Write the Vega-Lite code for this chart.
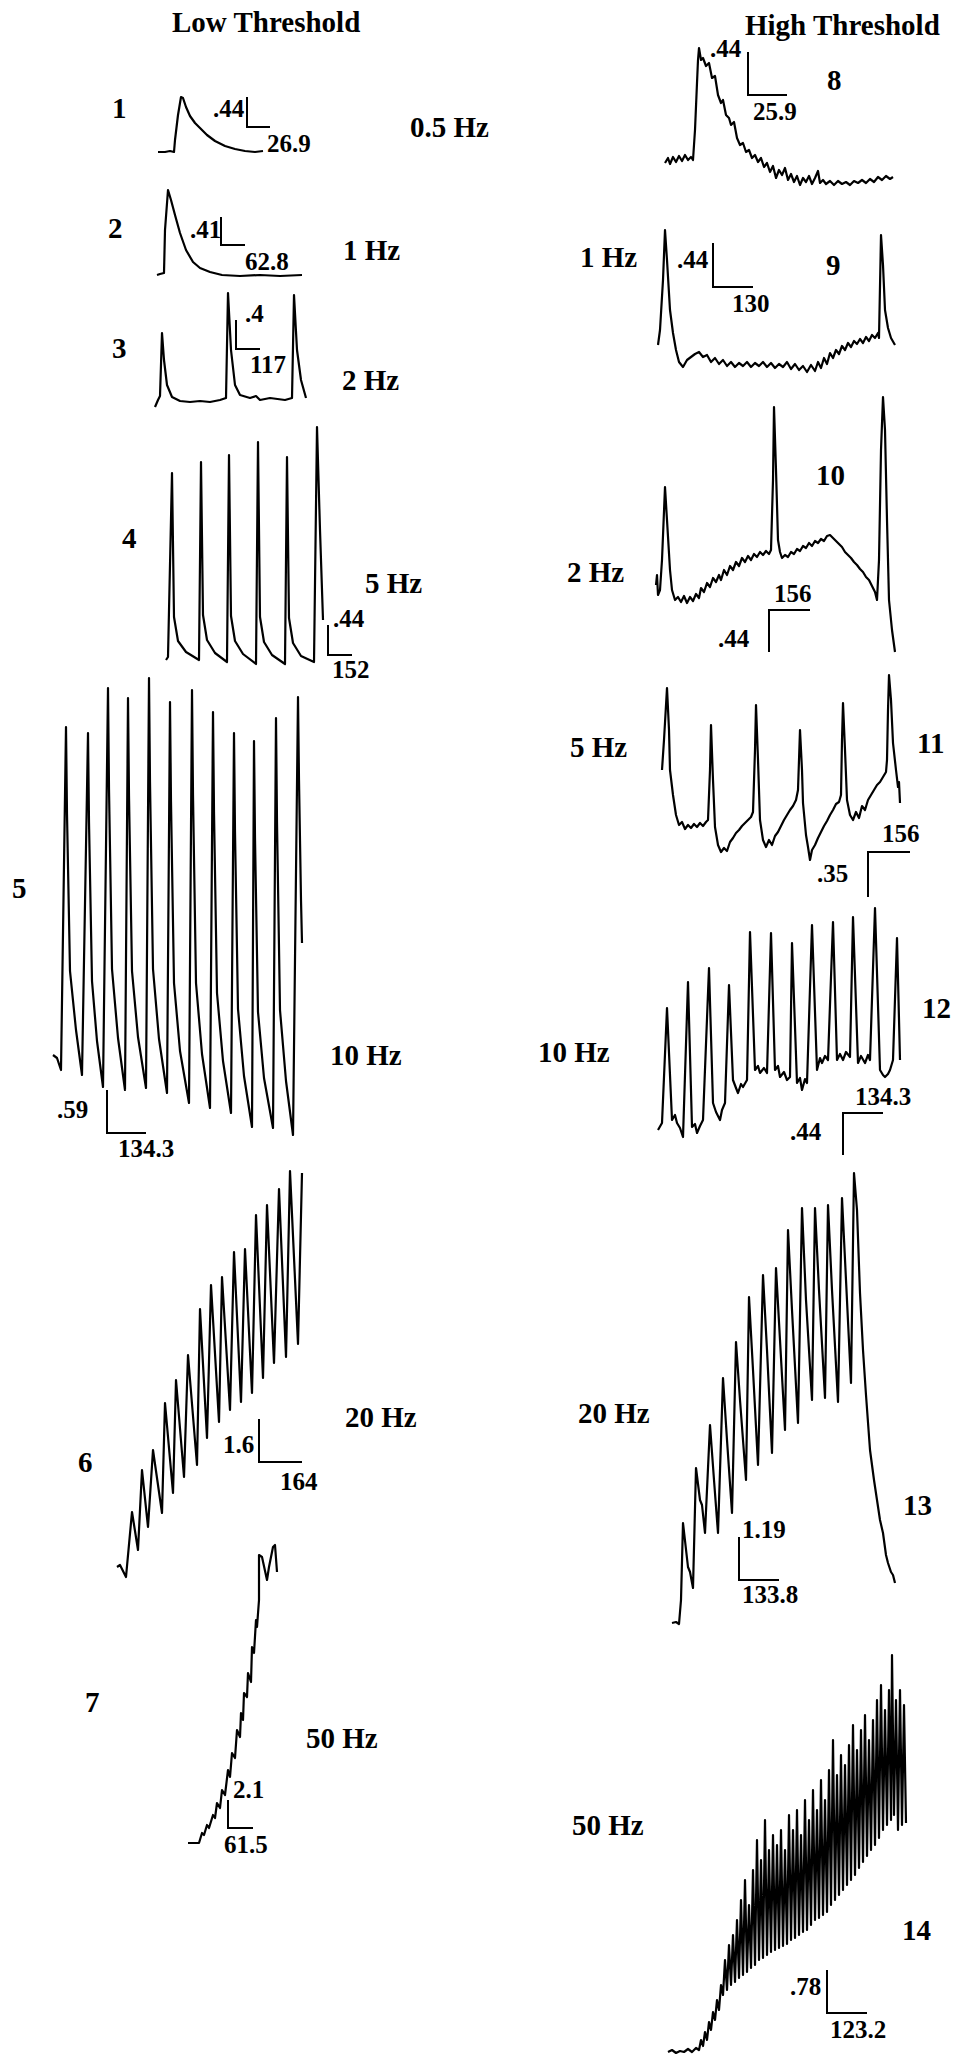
{
"$schema":"https://vega.github.io/schema/vega-lite/v6.json",
"width":968,"height":2063,
"autosize":{"type":"fit","contains":"padding"},
"padding":0,
"background":"white",
"config":{"view":{"stroke":null}},
"datasets":{
"traces":[
{"t":"1","x":158,"y":152},{"t":"1","x":165,"y":152},{"t":"1","x":170,"y":151},{"t":"1","x":174,"y":152},{"t":"1","x":175,"y":140},{"t":"1","x":178,"y":115},{"t":"1","x":181,"y":97},{"t":"1","x":183,"y":98},{"t":"1","x":186,"y":107},{"t":"1","x":190,"y":116},{"t":"1","x":195,"y":123},{"t":"1","x":200,"y":128},{"t":"1","x":207,"y":135},{"t":"1","x":215,"y":141},{"t":"1","x":225,"y":146},{"t":"1","x":235,"y":149},{"t":"1","x":245,"y":151},{"t":"1","x":255,"y":152},{"t":"1","x":263,"y":151},
{"t":"2","x":157,"y":275},{"t":"2","x":160,"y":274},{"t":"2","x":164,"y":273},{"t":"2","x":165,"y":230},{"t":"2","x":168,"y":190},{"t":"2","x":171,"y":200},{"t":"2","x":175,"y":215},{"t":"2","x":180,"y":233},{"t":"2","x":186,"y":250},{"t":"2","x":193,"y":262},{"t":"2","x":200,"y":268},{"t":"2","x":210,"y":272},{"t":"2","x":222,"y":275},{"t":"2","x":240,"y":276},{"t":"2","x":260,"y":275},{"t":"2","x":280,"y":276},{"t":"2","x":302,"y":275},
{"t":"3","x":155,"y":407},{"t":"3","x":158,"y":400},{"t":"3","x":160,"y":396},{"t":"3","x":162,"y":333},{"t":"3","x":164,"y":360},{"t":"3","x":167,"y":385},{"t":"3","x":172,"y":397},{"t":"3","x":180,"y":401},{"t":"3","x":190,"y":402},{"t":"3","x":200,"y":401},{"t":"3","x":210,"y":402},{"t":"3","x":220,"y":400},{"t":"3","x":226,"y":398},{"t":"3","x":228,"y":293},{"t":"3","x":231,"y":350},{"t":"3","x":235,"y":385},{"t":"3","x":240,"y":395},{"t":"3","x":250,"y":398},{"t":"3","x":256,"y":396},{"t":"3","x":260,"y":400},{"t":"3","x":270,"y":398},{"t":"3","x":285,"y":400},{"t":"3","x":292,"y":398},{"t":"3","x":294,"y":295},{"t":"3","x":297,"y":350},{"t":"3","x":301,"y":380},{"t":"3","x":306,"y":398},
{"t":"4","x":166,"y":660},{"t":"4","x":168,"y":657},{"t":"4","x":172,"y":473},{"t":"4","x":174,"y":617},{"t":"4","x":178,"y":641},{"t":"4","x":186,"y":652},{"t":"4","x":199,"y":660},{"t":"4","x":201,"y":462},{"t":"4","x":203,"y":615},{"t":"4","x":207,"y":640},{"t":"4","x":215,"y":653},{"t":"4","x":227,"y":662},{"t":"4","x":229,"y":455},{"t":"4","x":231,"y":616},{"t":"4","x":235,"y":641},{"t":"4","x":243,"y":654},{"t":"4","x":256,"y":664},{"t":"4","x":258,"y":442},{"t":"4","x":260,"y":617},{"t":"4","x":264,"y":642},{"t":"4","x":272,"y":655},{"t":"4","x":285,"y":664},{"t":"4","x":287,"y":457},{"t":"4","x":289,"y":618},{"t":"4","x":293,"y":643},{"t":"4","x":301,"y":656},{"t":"4","x":314,"y":662},{"t":"4","x":317,"y":427},{"t":"4","x":320,"y":530},{"t":"4","x":323,"y":620},
{"t":"5","x":53,"y":1055},{"t":"5","x":57,"y":1058},{"t":"5","x":61,"y":1070},{"t":"5","x":66,"y":727},{"t":"5","x":67,"y":814},{"t":"5","x":70,"y":971},{"t":"5","x":76,"y":1030},{"t":"5","x":82,"y":1075},{"t":"5","x":88,"y":733},{"t":"5","x":89,"y":822},{"t":"5","x":92,"y":981},{"t":"5","x":97,"y":1041},{"t":"5","x":103,"y":1087},{"t":"5","x":108,"y":688},{"t":"5","x":109,"y":789},{"t":"5","x":112,"y":969},{"t":"5","x":118,"y":1038},{"t":"5","x":125,"y":1090},{"t":"5","x":128,"y":698},{"t":"5","x":129,"y":796},{"t":"5","x":132,"y":971},{"t":"5","x":138,"y":1037},{"t":"5","x":146,"y":1088},{"t":"5","x":149,"y":678},{"t":"5","x":150,"y":782},{"t":"5","x":153,"y":969},{"t":"5","x":159,"y":1039},{"t":"5","x":167,"y":1093},{"t":"5","x":170,"y":702},{"t":"5","x":171,"y":802},{"t":"5","x":174,"y":983},{"t":"5","x":180,"y":1051},{"t":"5","x":189,"y":1103},{"t":"5","x":192,"y":690},{"t":"5","x":193,"y":795},{"t":"5","x":196,"y":983},{"t":"5","x":202,"y":1054},{"t":"5","x":210,"y":1108},{"t":"5","x":213,"y":712},{"t":"5","x":214,"y":812},{"t":"5","x":217,"y":993},{"t":"5","x":223,"y":1061},{"t":"5","x":231,"y":1113},{"t":"5","x":234,"y":733},{"t":"5","x":235,"y":832},{"t":"5","x":238,"y":1009},{"t":"5","x":244,"y":1076},{"t":"5","x":252,"y":1127},{"t":"5","x":254,"y":741},{"t":"5","x":255,"y":838},{"t":"5","x":258,"y":1012},{"t":"5","x":264,"y":1078},{"t":"5","x":273,"y":1128},{"t":"5","x":276,"y":718},{"t":"5","x":277,"y":822},{"t":"5","x":280,"y":1010},{"t":"5","x":286,"y":1081},{"t":"5","x":293,"y":1135},{"t":"5","x":298,"y":697},{"t":"5","x":299,"y":780},{"t":"5","x":301,"y":900},{"t":"5","x":302,"y":943},
{"t":"6","x":117,"y":1567},{"t":"6","x":120,"y":1565},{"t":"6","x":126,"y":1577},{"t":"6","x":132,"y":1512},{"t":"6","x":138,"y":1550},{"t":"6","x":142,"y":1470},{"t":"6","x":148,"y":1527},{"t":"6","x":153,"y":1450},{"t":"6","x":162,"y":1513},{"t":"6","x":165,"y":1403},{"t":"6","x":173,"y":1493},{"t":"6","x":176,"y":1380},{"t":"6","x":184,"y":1477},{"t":"6","x":188,"y":1355},{"t":"6","x":197,"y":1465},{"t":"6","x":200,"y":1309},{"t":"6","x":207,"y":1438},{"t":"6","x":211,"y":1285},{"t":"6","x":219,"y":1422},{"t":"6","x":222,"y":1277},{"t":"6","x":230,"y":1410},{"t":"6","x":234,"y":1252},{"t":"6","x":241,"y":1402},{"t":"6","x":245,"y":1249},{"t":"6","x":252,"y":1393},{"t":"6","x":256,"y":1215},{"t":"6","x":263,"y":1378},{"t":"6","x":267,"y":1205},{"t":"6","x":274,"y":1363},{"t":"6","x":279,"y":1189},{"t":"6","x":286,"y":1357},{"t":"6","x":290,"y":1171},{"t":"6","x":298,"y":1344},{"t":"6","x":302,"y":1173},
{"t":"7","x":188,"y":1843},{"t":"7","x":199,"y":1843},{"t":"7","x":202,"y":1833},{"t":"7","x":204,"y":1835},{"t":"7","x":207,"y":1825},{"t":"7","x":209,"y":1828},{"t":"7","x":213,"y":1815},{"t":"7","x":215,"y":1818},{"t":"7","x":217,"y":1803},{"t":"7","x":220,"y":1808},{"t":"7","x":222,"y":1790},{"t":"7","x":225,"y":1795},{"t":"7","x":228,"y":1770},{"t":"7","x":230,"y":1777},{"t":"7","x":232,"y":1753},{"t":"7","x":235,"y":1758},{"t":"7","x":237,"y":1730},{"t":"7","x":240,"y":1737},{"t":"7","x":241,"y":1713},{"t":"7","x":243,"y":1720},{"t":"7","x":244,"y":1693},{"t":"7","x":247,"y":1697},{"t":"7","x":248,"y":1673},{"t":"7","x":251,"y":1682},{"t":"7","x":252,"y":1647},{"t":"7","x":254,"y":1653},{"t":"7","x":256,"y":1620},{"t":"7","x":257,"y":1627},{"t":"7","x":259,"y":1600},{"t":"7","x":259,"y":1555},{"t":"7","x":262,"y":1557},{"t":"7","x":267,"y":1580},{"t":"7","x":269,"y":1567},{"t":"7","x":273,"y":1547},{"t":"7","x":275,"y":1545},{"t":"7","x":277,"y":1572},
{"t":"8","x":665,"y":163},{"t":"8","x":668,"y":158},{"t":"8","x":670,"y":164},{"t":"8","x":673,"y":157},{"t":"8","x":676,"y":162},{"t":"8","x":679,"y":156},{"t":"8","x":682,"y":161},{"t":"8","x":685,"y":155},{"t":"8","x":688,"y":160},{"t":"8","x":691,"y":157},{"t":"8","x":693,"y":160},{"t":"8","x":695,"y":130},{"t":"8","x":697,"y":83},{"t":"8","x":698,"y":60},{"t":"8","x":699,"y":48},{"t":"8","x":701,"y":60},{"t":"8","x":703,"y":58},{"t":"8","x":706,"y":66},{"t":"8","x":709,"y":63},{"t":"8","x":712,"y":78},{"t":"8","x":715,"y":76},{"t":"8","x":718,"y":95},{"t":"8","x":721,"y":103},{"t":"8","x":723,"y":100},{"t":"8","x":726,"y":115},{"t":"8","x":729,"y":118},{"t":"8","x":731,"y":125},{"t":"8","x":734,"y":122},{"t":"8","x":737,"y":138},{"t":"8","x":740,"y":145},{"t":"8","x":743,"y":143},{"t":"8","x":746,"y":152},{"t":"8","x":749,"y":150},{"t":"8","x":752,"y":158},{"t":"8","x":755,"y":155},{"t":"8","x":758,"y":162},{"t":"8","x":761,"y":158},{"t":"8","x":764,"y":167},{"t":"8","x":767,"y":163},{"t":"8","x":770,"y":172},{"t":"8","x":773,"y":166},{"t":"8","x":776,"y":178},{"t":"8","x":779,"y":170},{"t":"8","x":782,"y":175},{"t":"8","x":785,"y":168},{"t":"8","x":788,"y":180},{"t":"8","x":791,"y":174},{"t":"8","x":794,"y":182},{"t":"8","x":797,"y":176},{"t":"8","x":800,"y":185},{"t":"8","x":803,"y":178},{"t":"8","x":806,"y":182},{"t":"8","x":809,"y":176},{"t":"8","x":812,"y":184},{"t":"8","x":815,"y":178},{"t":"8","x":818,"y":171},{"t":"8","x":820,"y":183},{"t":"8","x":823,"y":180},{"t":"8","x":826,"y":184},{"t":"8","x":830,"y":181},{"t":"8","x":834,"y":185},{"t":"8","x":838,"y":181},{"t":"8","x":842,"y":184},{"t":"8","x":846,"y":182},{"t":"8","x":850,"y":185},{"t":"8","x":854,"y":181},{"t":"8","x":858,"y":183},{"t":"8","x":862,"y":180},{"t":"8","x":866,"y":183},{"t":"8","x":870,"y":179},{"t":"8","x":874,"y":182},{"t":"8","x":878,"y":177},{"t":"8","x":882,"y":180},{"t":"8","x":886,"y":176},{"t":"8","x":890,"y":179},{"t":"8","x":893,"y":177},
{"t":"9","x":658,"y":345},{"t":"9","x":660,"y":330},{"t":"9","x":663,"y":280},{"t":"9","x":665,"y":230},{"t":"9","x":667,"y":260},{"t":"9","x":670,"y":310},{"t":"9","x":673,"y":333},{"t":"9","x":676,"y":350},{"t":"9","x":679,"y":362},{"t":"9","x":683,"y":367},{"t":"9","x":687,"y":360},{"t":"9","x":691,"y":357},{"t":"9","x":695,"y":354},{"t":"9","x":699,"y":352},{"t":"9","x":703,"y":357},{"t":"9","x":707,"y":355},{"t":"9","x":711,"y":362},{"t":"9","x":715,"y":358},{"t":"9","x":719,"y":364},{"t":"9","x":723,"y":360},{"t":"9","x":727,"y":366},{"t":"9","x":731,"y":362},{"t":"9","x":735,"y":367},{"t":"9","x":739,"y":363},{"t":"9","x":743,"y":366},{"t":"9","x":747,"y":362},{"t":"9","x":751,"y":367},{"t":"9","x":755,"y":363},{"t":"9","x":759,"y":366},{"t":"9","x":763,"y":362},{"t":"9","x":767,"y":367},{"t":"9","x":771,"y":363},{"t":"9","x":775,"y":368},{"t":"9","x":779,"y":364},{"t":"9","x":783,"y":367},{"t":"9","x":787,"y":362},{"t":"9","x":791,"y":369},{"t":"9","x":795,"y":364},{"t":"9","x":799,"y":370},{"t":"9","x":803,"y":366},{"t":"9","x":807,"y":372},{"t":"9","x":811,"y":365},{"t":"9","x":815,"y":371},{"t":"9","x":818,"y":362},{"t":"9","x":821,"y":368},{"t":"9","x":824,"y":358},{"t":"9","x":827,"y":364},{"t":"9","x":830,"y":353},{"t":"9","x":833,"y":358},{"t":"9","x":836,"y":350},{"t":"9","x":839,"y":354},{"t":"9","x":842,"y":346},{"t":"9","x":845,"y":350},{"t":"9","x":848,"y":343},{"t":"9","x":851,"y":347},{"t":"9","x":854,"y":341},{"t":"9","x":857,"y":344},{"t":"9","x":860,"y":339},{"t":"9","x":863,"y":343},{"t":"9","x":866,"y":337},{"t":"9","x":869,"y":341},{"t":"9","x":872,"y":335},{"t":"9","x":875,"y":338},{"t":"9","x":878,"y":333},{"t":"9","x":879,"y":338},{"t":"9","x":881,"y":235},{"t":"9","x":883,"y":265},{"t":"9","x":885,"y":310},{"t":"9","x":888,"y":328},{"t":"9","x":891,"y":338},{"t":"9","x":895,"y":345},
{"t":"10","x":656,"y":585},{"t":"10","x":657,"y":575},{"t":"10","x":658,"y":595},{"t":"10","x":660,"y":590},{"t":"10","x":662,"y":560},{"t":"10","x":665,"y":487},{"t":"10","x":667,"y":520},{"t":"10","x":670,"y":570},{"t":"10","x":672,"y":590},{"t":"10","x":675,"y":600},{"t":"10","x":678,"y":597},{"t":"10","x":681,"y":602},{"t":"10","x":684,"y":596},{"t":"10","x":687,"y":603},{"t":"10","x":690,"y":597},{"t":"10","x":693,"y":601},{"t":"10","x":696,"y":594},{"t":"10","x":699,"y":598},{"t":"10","x":701,"y":588},{"t":"10","x":704,"y":592},{"t":"10","x":707,"y":583},{"t":"10","x":710,"y":587},{"t":"10","x":713,"y":578},{"t":"10","x":716,"y":582},{"t":"10","x":719,"y":575},{"t":"10","x":721,"y":580},{"t":"10","x":724,"y":570},{"t":"10","x":727,"y":575},{"t":"10","x":730,"y":566},{"t":"10","x":733,"y":570},{"t":"10","x":736,"y":562},{"t":"10","x":739,"y":566},{"t":"10","x":742,"y":558},{"t":"10","x":745,"y":562},{"t":"10","x":748,"y":556},{"t":"10","x":751,"y":560},{"t":"10","x":754,"y":554},{"t":"10","x":757,"y":557},{"t":"10","x":760,"y":552},{"t":"10","x":763,"y":555},{"t":"10","x":766,"y":551},{"t":"10","x":769,"y":554},{"t":"10","x":771,"y":550},{"t":"10","x":773,"y":480},{"t":"10","x":774,"y":407},{"t":"10","x":776,"y":470},{"t":"10","x":778,"y":540},{"t":"10","x":780,"y":552},{"t":"10","x":782,"y":558},{"t":"10","x":785,"y":555},{"t":"10","x":788,"y":557},{"t":"10","x":791,"y":552},{"t":"10","x":794,"y":554},{"t":"10","x":797,"y":549},{"t":"10","x":800,"y":551},{"t":"10","x":803,"y":546},{"t":"10","x":806,"y":548},{"t":"10","x":809,"y":543},{"t":"10","x":812,"y":546},{"t":"10","x":815,"y":541},{"t":"10","x":818,"y":543},{"t":"10","x":821,"y":539},{"t":"10","x":824,"y":541},{"t":"10","x":827,"y":536},{"t":"10","x":830,"y":535},{"t":"10","x":833,"y":538},{"t":"10","x":836,"y":541},{"t":"10","x":839,"y":544},{"t":"10","x":842,"y":547},{"t":"10","x":845,"y":552},{"t":"10","x":848,"y":555},{"t":"10","x":851,"y":558},{"t":"10","x":854,"y":562},{"t":"10","x":857,"y":565},{"t":"10","x":860,"y":569},{"t":"10","x":863,"y":572},{"t":"10","x":866,"y":577},{"t":"10","x":869,"y":580},{"t":"10","x":872,"y":586},{"t":"10","x":875,"y":592},{"t":"10","x":877,"y":600},{"t":"10","x":879,"y":560},{"t":"10","x":881,"y":450},{"t":"10","x":883,"y":397},{"t":"10","x":885,"y":430},{"t":"10","x":887,"y":520},{"t":"10","x":889,"y":600},{"t":"10","x":892,"y":630},{"t":"10","x":895,"y":652},
{"t":"11","x":662,"y":770},{"t":"11","x":664,"y":740},{"t":"11","x":667,"y":688},{"t":"11","x":669,"y":730},{"t":"11","x":670,"y":770},{"t":"11","x":673,"y":795},{"t":"11","x":676,"y":815},{"t":"11","x":679,"y":825},{"t":"11","x":682,"y":822},{"t":"11","x":685,"y":829},{"t":"11","x":688,"y":825},{"t":"11","x":691,"y":828},{"t":"11","x":694,"y":824},{"t":"11","x":697,"y":827},{"t":"11","x":700,"y":823},{"t":"11","x":703,"y":826},{"t":"11","x":706,"y":822},{"t":"11","x":708,"y":820},{"t":"11","x":710,"y":770},{"t":"11","x":711,"y":725},{"t":"11","x":713,"y":780},{"t":"11","x":715,"y":827},{"t":"11","x":718,"y":845},{"t":"11","x":721,"y":852},{"t":"11","x":724,"y":848},{"t":"11","x":727,"y":851},{"t":"11","x":730,"y":842},{"t":"11","x":733,"y":838},{"t":"11","x":736,"y":833},{"t":"11","x":739,"y":830},{"t":"11","x":742,"y":826},{"t":"11","x":745,"y":823},{"t":"11","x":748,"y":820},{"t":"11","x":751,"y":817},{"t":"11","x":753,"y":812},{"t":"11","x":755,"y":750},{"t":"11","x":756,"y":705},{"t":"11","x":758,"y":760},{"t":"11","x":760,"y":820},{"t":"11","x":763,"y":840},{"t":"11","x":766,"y":847},{"t":"11","x":769,"y":840},{"t":"11","x":772,"y":845},{"t":"11","x":775,"y":836},{"t":"11","x":778,"y":832},{"t":"11","x":781,"y":826},{"t":"11","x":784,"y":820},{"t":"11","x":787,"y":815},{"t":"11","x":790,"y":810},{"t":"11","x":793,"y":806},{"t":"11","x":796,"y":800},{"t":"11","x":798,"y":790},{"t":"11","x":799,"y":760},{"t":"11","x":800,"y":730},{"t":"11","x":802,"y":770},{"t":"11","x":803,"y":803},{"t":"11","x":806,"y":835},{"t":"11","x":808,"y":847},{"t":"11","x":810,"y":860},{"t":"11","x":812,"y":850},{"t":"11","x":815,"y":845},{"t":"11","x":818,"y":838},{"t":"11","x":821,"y":832},{"t":"11","x":824,"y":826},{"t":"11","x":827,"y":821},{"t":"11","x":830,"y":815},{"t":"11","x":833,"y":810},{"t":"11","x":836,"y":804},{"t":"11","x":839,"y":802},{"t":"11","x":841,"y":795},{"t":"11","x":842,"y":740},{"t":"11","x":843,"y":703},{"t":"11","x":845,"y":750},{"t":"11","x":847,"y":800},{"t":"11","x":850,"y":815},{"t":"11","x":853,"y":820},{"t":"11","x":856,"y":812},{"t":"11","x":859,"y":818},{"t":"11","x":862,"y":806},{"t":"11","x":865,"y":810},{"t":"11","x":868,"y":800},{"t":"11","x":871,"y":795},{"t":"11","x":874,"y":790},{"t":"11","x":877,"y":785},{"t":"11","x":880,"y":782},{"t":"11","x":883,"y":777},{"t":"11","x":886,"y":772},{"t":"11","x":887,"y":760},{"t":"11","x":888,"y":710},{"t":"11","x":889,"y":675},{"t":"11","x":891,"y":700},{"t":"11","x":893,"y":743},{"t":"11","x":896,"y":770},{"t":"11","x":898,"y":787},{"t":"11","x":899,"y":782},{"t":"11","x":900,"y":803},
{"t":"12","x":658,"y":1130},{"t":"12","x":662,"y":1123},{"t":"12","x":667,"y":1008},{"t":"12","x":672,"y":1120},{"t":"12","x":675,"y":1115},{"t":"12","x":677,"y":1123},{"t":"12","x":680,"y":1128},{"t":"12","x":683,"y":1137},{"t":"12","x":688,"y":982},{"t":"12","x":692,"y":1127},{"t":"12","x":695,"y":1124},{"t":"12","x":697,"y":1133},{"t":"12","x":700,"y":1126},{"t":"12","x":703,"y":1120},{"t":"12","x":709,"y":968},{"t":"12","x":713,"y":1103},{"t":"12","x":716,"y":1112},{"t":"12","x":720,"y":1120},{"t":"12","x":722,"y":1110},{"t":"12","x":725,"y":1103},{"t":"12","x":729,"y":985},{"t":"12","x":733,"y":1080},{"t":"12","x":736,"y":1088},{"t":"12","x":738,"y":1093},{"t":"12","x":741,"y":1084},{"t":"12","x":743,"y":1087},{"t":"12","x":747,"y":1080},{"t":"12","x":750,"y":932},{"t":"12","x":755,"y":1070},{"t":"12","x":758,"y":1066},{"t":"12","x":760,"y":1073},{"t":"12","x":764,"y":1068},{"t":"12","x":767,"y":1073},{"t":"12","x":771,"y":933},{"t":"12","x":775,"y":1070},{"t":"12","x":778,"y":1066},{"t":"12","x":780,"y":1077},{"t":"12","x":784,"y":1072},{"t":"12","x":787,"y":1080},{"t":"12","x":790,"y":1077},{"t":"12","x":792,"y":943},{"t":"12","x":797,"y":1083},{"t":"12","x":800,"y":1078},{"t":"12","x":802,"y":1090},{"t":"12","x":805,"y":1079},{"t":"12","x":807,"y":1083},{"t":"12","x":812,"y":925},{"t":"12","x":817,"y":1070},{"t":"12","x":820,"y":1058},{"t":"12","x":822,"y":1063},{"t":"12","x":825,"y":1056},{"t":"12","x":828,"y":1060},{"t":"12","x":833,"y":922},{"t":"12","x":837,"y":1060},{"t":"12","x":840,"y":1054},{"t":"12","x":843,"y":1060},{"t":"12","x":846,"y":1052},{"t":"12","x":850,"y":1057},{"t":"12","x":853,"y":917},{"t":"12","x":858,"y":1063},{"t":"12","x":861,"y":1056},{"t":"12","x":865,"y":1063},{"t":"12","x":868,"y":1055},{"t":"12","x":870,"y":1060},{"t":"12","x":875,"y":908},{"t":"12","x":880,"y":1070},{"t":"12","x":883,"y":1075},{"t":"12","x":885,"y":1077},{"t":"12","x":888,"y":1074},{"t":"12","x":890,"y":1070},{"t":"12","x":893,"y":1060},{"t":"12","x":897,"y":938},{"t":"12","x":900,"y":1060},
{"t":"13","x":672,"y":1623},{"t":"13","x":676,"y":1622},{"t":"13","x":679,"y":1624},{"t":"13","x":681,"y":1600},{"t":"13","x":683,"y":1523},{"t":"13","x":688,"y":1567},{"t":"13","x":690,"y":1572},{"t":"13","x":693,"y":1588},{"t":"13","x":696,"y":1468},{"t":"13","x":700,"y":1500},{"t":"13","x":702,"y":1505},{"t":"13","x":705,"y":1533},{"t":"13","x":710,"y":1425},{"t":"13","x":714,"y":1480},{"t":"13","x":718,"y":1533},{"t":"13","x":723,"y":1378},{"t":"13","x":727,"y":1440},{"t":"13","x":732,"y":1513},{"t":"13","x":736,"y":1342},{"t":"13","x":740,"y":1400},{"t":"13","x":746,"y":1480},{"t":"13","x":749,"y":1297},{"t":"13","x":753,"y":1370},{"t":"13","x":758,"y":1465},{"t":"13","x":763,"y":1275},{"t":"13","x":767,"y":1350},{"t":"13","x":772,"y":1453},{"t":"13","x":776,"y":1268},{"t":"13","x":780,"y":1340},{"t":"13","x":785,"y":1430},{"t":"13","x":788,"y":1230},{"t":"13","x":792,"y":1310},{"t":"13","x":798,"y":1423},{"t":"13","x":802,"y":1208},{"t":"13","x":806,"y":1300},{"t":"13","x":812,"y":1400},{"t":"13","x":815,"y":1208},{"t":"13","x":819,"y":1290},{"t":"13","x":825,"y":1398},{"t":"13","x":828,"y":1205},{"t":"13","x":832,"y":1290},{"t":"13","x":838,"y":1402},{"t":"13","x":842,"y":1198},{"t":"13","x":846,"y":1280},{"t":"13","x":851,"y":1383},{"t":"13","x":854,"y":1173},{"t":"13","x":857,"y":1210},{"t":"13","x":860,"y":1293},{"t":"13","x":863,"y":1350},{"t":"13","x":866,"y":1395},{"t":"13","x":870,"y":1450},{"t":"13","x":874,"y":1480},{"t":"13","x":877,"y":1500},{"t":"13","x":880,"y":1520},{"t":"13","x":883,"y":1533},{"t":"13","x":886,"y":1555},{"t":"13","x":888,"y":1563},{"t":"13","x":891,"y":1572},{"t":"13","x":893,"y":1575},{"t":"13","x":895,"y":1583},
{"t":"14","x":668,"y":2052},{"t":"14","x":672,"y":2050},{"t":"14","x":676,"y":2053},{"t":"14","x":680,"y":2051},{"t":"14","x":684,"y":2052},{"t":"14","x":688,"y":2049},{"t":"14","x":692,"y":2052},{"t":"14","x":696,"y":2048},{"t":"14","x":699,"y":2050},{"t":"14","x":701,"y":2040},{"t":"14","x":703,"y":2046},{"t":"14","x":705,"y":2032},{"t":"14","x":707,"y":2040},{"t":"14","x":709,"y":2022},{"t":"14","x":711,"y":2030},{"t":"14","x":713,"y":2012},{"t":"14","x":715,"y":2020},{"t":"14","x":717,"y":2000},{"t":"14","x":719,"y":2010},{"t":"14","x":721,"y":1985},{"t":"14","x":723,"y":1995},
{"t":"14","x":725,"y":1960},{"t":"14","x":727,"y":1990},{"t":"14","x":729,"y":1945},{"t":"14","x":731,"y":1985},{"t":"14","x":733,"y":1935},{"t":"14","x":735,"y":1982},{"t":"14","x":737,"y":1920},{"t":"14","x":739,"y":1978},{"t":"14","x":741,"y":1900},{"t":"14","x":743,"y":1975},{"t":"14","x":745,"y":1880},{"t":"14","x":747,"y":1972},{"t":"14","x":749,"y":1905},{"t":"14","x":751,"y":1968},{"t":"14","x":753,"y":1870},{"t":"14","x":755,"y":1965},{"t":"14","x":757,"y":1840},{"t":"14","x":759,"y":1960},{"t":"14","x":761,"y":1860},{"t":"14","x":763,"y":1958},{"t":"14","x":765,"y":1820},{"t":"14","x":767,"y":1955},{"t":"14","x":769,"y":1850},{"t":"14","x":771,"y":1952},{"t":"14","x":773,"y":1835},{"t":"14","x":775,"y":1950},{"t":"14","x":777,"y":1845},{"t":"14","x":779,"y":1948},{"t":"14","x":781,"y":1830},{"t":"14","x":783,"y":1946},{"t":"14","x":785,"y":1850},{"t":"14","x":787,"y":1944},{"t":"14","x":789,"y":1815},{"t":"14","x":791,"y":1940},{"t":"14","x":793,"y":1830},{"t":"14","x":795,"y":1938},{"t":"14","x":797,"y":1810},{"t":"14","x":799,"y":1935},{"t":"14","x":801,"y":1835},{"t":"14","x":803,"y":1932},{"t":"14","x":805,"y":1800},{"t":"14","x":807,"y":1930},{"t":"14","x":809,"y":1820},{"t":"14","x":811,"y":1925},{"t":"14","x":813,"y":1790},{"t":"14","x":815,"y":1920},{"t":"14","x":817,"y":1810},{"t":"14","x":819,"y":1918},{"t":"14","x":821,"y":1780},{"t":"14","x":823,"y":1915},{"t":"14","x":825,"y":1800},{"t":"14","x":827,"y":1912},{"t":"14","x":829,"y":1770},{"t":"14","x":831,"y":1905},{"t":"14","x":833,"y":1740},{"t":"14","x":835,"y":1900},{"t":"14","x":837,"y":1775},{"t":"14","x":839,"y":1895},{"t":"14","x":841,"y":1755},{"t":"14","x":843,"y":1890},{"t":"14","x":845,"y":1765},{"t":"14","x":847,"y":1885},{"t":"14","x":849,"y":1745},{"t":"14","x":851,"y":1880},{"t":"14","x":853,"y":1725},{"t":"14","x":855,"y":1875},{"t":"14","x":857,"y":1750},{"t":"14","x":859,"y":1868},{"t":"14","x":861,"y":1730},{"t":"14","x":863,"y":1862},{"t":"14","x":865,"y":1715},{"t":"14","x":867,"y":1856},{"t":"14","x":869,"y":1740},{"t":"14","x":871,"y":1850},{"t":"14","x":873,"y":1720},{"t":"14","x":875,"y":1845},{"t":"14","x":877,"y":1700},{"t":"14","x":879,"y":1838},{"t":"14","x":881,"y":1685},{"t":"14","x":883,"y":1830},{"t":"14","x":885,"y":1710},{"t":"14","x":887,"y":1825},{"t":"14","x":889,"y":1690},{"t":"14","x":891,"y":1820},{"t":"14","x":892,"y":1655},{"t":"14","x":894,"y":1815},{"t":"14","x":896,"y":1700},{"t":"14","x":898,"y":1830},{"t":"14","x":900,"y":1690},{"t":"14","x":902,"y":1825},{"t":"14","x":904,"y":1705},{"t":"14","x":906,"y":1823}
],
"bars":[
{"b":"1","x":247,"y":97},{"b":"1","x":247,"y":127},{"b":"1","x":270,"y":127},
{"b":"2","x":221,"y":217},{"b":"2","x":221,"y":245},{"b":"2","x":245,"y":245},
{"b":"3","x":236,"y":320},{"b":"3","x":236,"y":349},{"b":"3","x":260,"y":349},
{"b":"4","x":328,"y":625},{"b":"4","x":328,"y":655},{"b":"4","x":352,"y":655},
{"b":"5","x":107,"y":1090},{"b":"5","x":107,"y":1133},{"b":"5","x":146,"y":1133},
{"b":"6","x":259,"y":1419},{"b":"6","x":259,"y":1462},{"b":"6","x":302,"y":1462},
{"b":"7","x":228,"y":1800},{"b":"7","x":228,"y":1828},{"b":"7","x":253,"y":1828},
{"b":"8","x":748,"y":52},{"b":"8","x":748,"y":95},{"b":"8","x":787,"y":95},
{"b":"9","x":713,"y":243},{"b":"9","x":713,"y":287},{"b":"9","x":753,"y":287},
{"b":"10","x":769,"y":652},{"b":"10","x":769,"y":610},{"b":"10","x":810,"y":610},
{"b":"11","x":868,"y":897},{"b":"11","x":868,"y":852},{"b":"11","x":910,"y":852},
{"b":"12","x":843,"y":1155},{"b":"12","x":843,"y":1113},{"b":"12","x":883,"y":1113},
{"b":"13","x":739,"y":1537},{"b":"13","x":739,"y":1580},{"b":"13","x":779,"y":1580},
{"b":"14","x":827,"y":1970},{"b":"14","x":827,"y":2013},{"b":"14","x":867,"y":2013}
],
"texts":[
{"k":"title","s":"Low Threshold","x":172,"y":32},
{"k":"title","s":"High Threshold","x":745,"y":35},
{"k":"label","s":"1","x":112,"y":118},
{"k":"label","s":"2","x":108,"y":238},
{"k":"label","s":"3","x":112,"y":358},
{"k":"label","s":"4","x":122,"y":548},
{"k":"label","s":"5","x":12,"y":898},
{"k":"label","s":"6","x":78,"y":1472},
{"k":"label","s":"7","x":85,"y":1712},
{"k":"label","s":"8","x":827,"y":90},
{"k":"label","s":"9","x":826,"y":275},
{"k":"label","s":"10","x":816,"y":485},
{"k":"label","s":"11","x":917,"y":753},
{"k":"label","s":"12","x":922,"y":1018},
{"k":"label","s":"13","x":903,"y":1515},
{"k":"label","s":"14","x":902,"y":1940},
{"k":"label","s":"0.5 Hz","x":410,"y":137},
{"k":"label","s":"1 Hz","x":343,"y":260},
{"k":"label","s":"2 Hz","x":342,"y":390},
{"k":"label","s":"5 Hz","x":365,"y":593},
{"k":"label","s":"10 Hz","x":330,"y":1065},
{"k":"label","s":"20 Hz","x":345,"y":1427},
{"k":"label","s":"50 Hz","x":306,"y":1748},
{"k":"label","s":"1 Hz","x":580,"y":267},
{"k":"label","s":"2 Hz","x":567,"y":582},
{"k":"label","s":"5 Hz","x":570,"y":757},
{"k":"label","s":"10 Hz","x":538,"y":1062},
{"k":"label","s":"20 Hz","x":578,"y":1423},
{"k":"label","s":"50 Hz","x":572,"y":1835},
{"k":"scale","s":".44","x":213,"y":117},
{"k":"scale","s":"26.9","x":267,"y":152},
{"k":"scale","s":".41","x":190,"y":238},
{"k":"scale","s":"62.8","x":245,"y":270},
{"k":"scale","s":".4","x":245,"y":322},
{"k":"scale","s":"117","x":250,"y":373},
{"k":"scale","s":".44","x":333,"y":627},
{"k":"scale","s":"152","x":332,"y":678},
{"k":"scale","s":".59","x":57,"y":1118},
{"k":"scale","s":"134.3","x":118,"y":1157},
{"k":"scale","s":"1.6","x":223,"y":1453},
{"k":"scale","s":"164","x":280,"y":1490},
{"k":"scale","s":"2.1","x":233,"y":1798},
{"k":"scale","s":"61.5","x":224,"y":1853},
{"k":"scale","s":".44","x":710,"y":57},
{"k":"scale","s":"25.9","x":753,"y":120},
{"k":"scale","s":".44","x":677,"y":268},
{"k":"scale","s":"130","x":732,"y":312},
{"k":"scale","s":"156","x":774,"y":602},
{"k":"scale","s":".44","x":718,"y":647},
{"k":"scale","s":"156","x":882,"y":842},
{"k":"scale","s":".35","x":817,"y":882},
{"k":"scale","s":"134.3","x":855,"y":1105},
{"k":"scale","s":".44","x":790,"y":1140},
{"k":"scale","s":"1.19","x":742,"y":1538},
{"k":"scale","s":"133.8","x":742,"y":1603},
{"k":"scale","s":".78","x":790,"y":1995},
{"k":"scale","s":"123.2","x":830,"y":2038}
]
},
"encoding":{
"x":{"field":"x","type":"quantitative","scale":{"domain":[0,968],"nice":false,"zero":false},"axis":null},
"y":{"field":"y","type":"quantitative","scale":{"domain":[0,2063],"nice":false,"zero":false,"reverse":true},"axis":null}
},
"layer":[
{"data":{"name":"traces"},
"transform":[{"window":[{"op":"row_number","as":"i"}]}],
"mark":{"type":"line","color":"black","strokeWidth":2.2,"strokeJoin":"round","clip":true},
"encoding":{"detail":{"field":"t","type":"nominal"},"order":{"field":"i","type":"quantitative"}}},
{"data":{"name":"bars"},
"transform":[{"window":[{"op":"row_number","as":"i"}]}],
"mark":{"type":"line","color":"black","strokeWidth":2},
"encoding":{"detail":{"field":"b","type":"nominal"},"order":{"field":"i","type":"quantitative"}}},
{"data":{"name":"texts"},
"transform":[{"filter":"datum.k==='title'"}],
"mark":{"type":"text","font":"Liberation Serif","fontWeight":"bold","fontSize":29,"align":"left","baseline":"alphabetic","color":"black"},
"encoding":{"text":{"field":"s","type":"nominal"}}},
{"data":{"name":"texts"},
"transform":[{"filter":"datum.k==='label'"}],
"mark":{"type":"text","font":"Liberation Serif","fontWeight":"bold","fontSize":29,"align":"left","baseline":"alphabetic","color":"black"},
"encoding":{"text":{"field":"s","type":"nominal"}}},
{"data":{"name":"texts"},
"transform":[{"filter":"datum.k==='scale'"}],
"mark":{"type":"text","font":"Liberation Serif","fontWeight":"bold","fontSize":25,"align":"left","baseline":"alphabetic","color":"black"},
"encoding":{"text":{"field":"s","type":"nominal"}}}
]
}
